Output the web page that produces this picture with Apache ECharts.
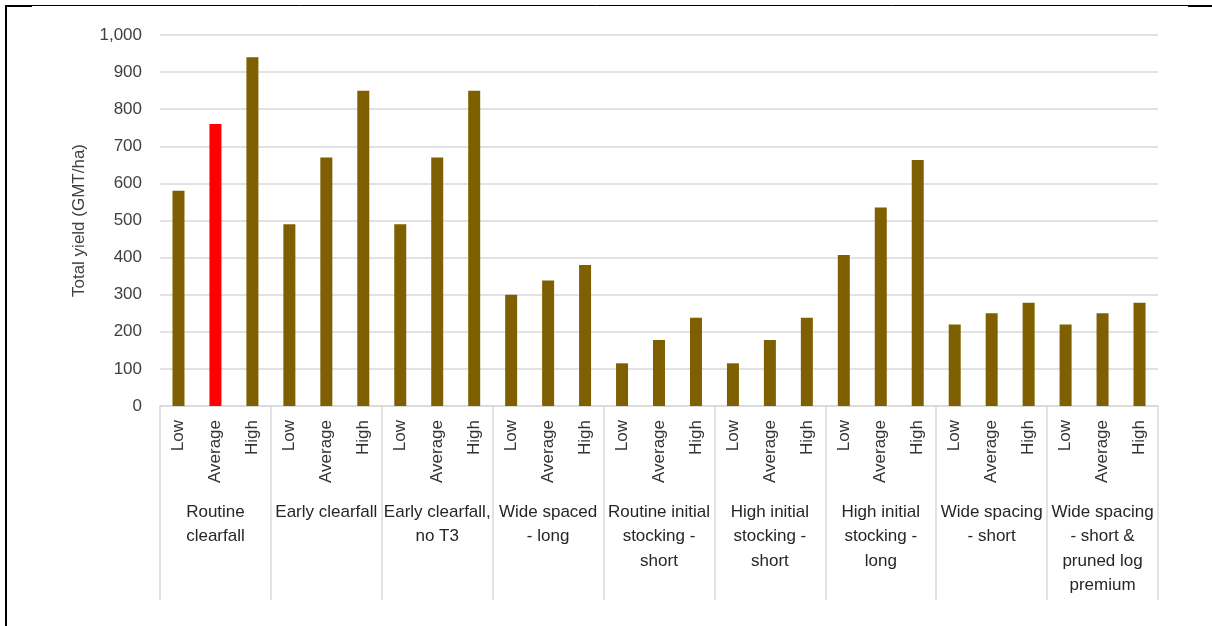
<!DOCTYPE html>
<html>
<head>
<meta charset="utf-8">
<script src="https://cdn.jsdelivr.net/npm/echarts@6/dist/echarts.min.js"></script>
<style>
  html, body { margin: 0; padding: 0; background: #ffffff; }
  #chart { width: 1212px; height: 626px; }
</style>
</head>
<body>
<div id="chart"></div>
<script>
// ---- Data ----
const levels = ['Low', 'Average', 'High'];
const groups = [
  'Routine\nclearfall',
  'Early clearfall',
  'Early clearfall,\nno T3',
  'Wide spaced\n- long',
  'Routine initial\nstocking -\nshort',
  'High initial\nstocking -\nshort',
  'High initial\nstocking -\nlong',
  'Wide spacing\n- short',
  'Wide spacing\n- short &\npruned log\npremium'
];
const yieldValues = [
  580, 760, 940,
  490, 670, 850,
  490, 670, 850,
  300, 338, 380,
  115, 178, 238,
  115, 178, 238,
  407, 535, 663,
  220, 250, 278,
  220, 250, 278
];
const highlightIndex = 1; // Routine clearfall - Average
const yTicks = [0, 100, 200, 300, 400, 500, 600, 700, 800, 900, 1000];

// ---- Build ----
const categories = [];
groups.forEach(() => levels.forEach(l => categories.push(l)));

const barColor = '#7f6000';
const hiColor = '#ff0000';
const font = 'Liberation Sans, Arial, sans-serif';

const gridBox = { left: 160, right: 54, top: 35, bottom: 220, containLabel: false };

const chart = echarts.init(document.getElementById('chart'));
chart.setOption({
  backgroundColor: '#ffffff',
  animation: false,
  grid: [Object.assign({}, gridBox), Object.assign({}, gridBox)],
  xAxis: [
    {
      type: 'category',
      gridIndex: 0,
      data: categories,
      boundaryGap: true,
      axisLine: { show: true, lineStyle: { color: '#d9d9d9', width: 1.5 } },
      axisTick: { show: false },
      axisLabel: {
        interval: 0,
        rotate: 90,
        margin: 14,
        fontFamily: font,
        fontSize: 17,
        color: '#333333'
      },
      splitLine: { show: false }
    },
    {
      type: 'category',
      gridIndex: 1,
      data: groups,
      position: 'bottom',
      boundaryGap: true,
      axisLine: { show: false },
      axisTick: { show: true, interval: 0, length: 194, lineStyle: { color: '#d9d9d9', width: 1.5 } },
      axisLabel: {
        interval: 0,
        margin: 94,
        fontFamily: font,
        fontSize: 17,
        lineHeight: 24.5,
        color: '#262626',
        align: 'center'
      },
      splitLine: { show: false }
    }
  ],
  yAxis: [
    {
      type: 'value',
      gridIndex: 0,
      min: 0,
      max: 1000,
      interval: 100,
      name: 'Total yield (GMT/ha)',
      nameLocation: 'middle',
      nameGap: 72,
      nameRotate: 90,
      nameTextStyle: { fontFamily: font, fontSize: 17, color: '#404040' },
      axisLine: { show: false },
      axisTick: { show: false },
      axisLabel: {
        margin: 18,
        fontFamily: font,
        fontSize: 17,
        color: '#404040',
        formatter: v => yTicks.indexOf(v) >= 0 ? v.toLocaleString('en-US') : ''
      },
      splitLine: { show: true, lineStyle: { color: '#d9d9d9', width: 1.5 } }
    },
    {
      type: 'value',
      gridIndex: 1,
      min: 0,
      max: 1000,
      show: false,
      splitLine: { show: false }
    }
  ],
  series: [
    {
      type: 'bar',
      xAxisIndex: 0,
      yAxisIndex: 0,
      barWidth: 12,
      data: yieldValues.map((v, i) => ({
        value: v,
        itemStyle: { color: i === highlightIndex ? hiColor : barColor }
      }))
    }
  ],
  graphic: [
    { type: 'line', shape: { x1: 6, y1: 5, x2: 6, y2: 626 }, style: { stroke: '#000', lineWidth: 2 } },
    { type: 'line', shape: { x1: 5, y1: 5.5, x2: 1188, y2: 5.5 }, style: { stroke: '#000', lineWidth: 1 } },
    { type: 'line', shape: { x1: 5, y1: 6, x2: 32, y2: 6 }, style: { stroke: '#000', lineWidth: 2 } },
    { type: 'line', shape: { x1: 1188, y1: 6, x2: 1212, y2: 6 }, style: { stroke: '#000', lineWidth: 2 } }
  ]
});
</script>
</body>
</html>
